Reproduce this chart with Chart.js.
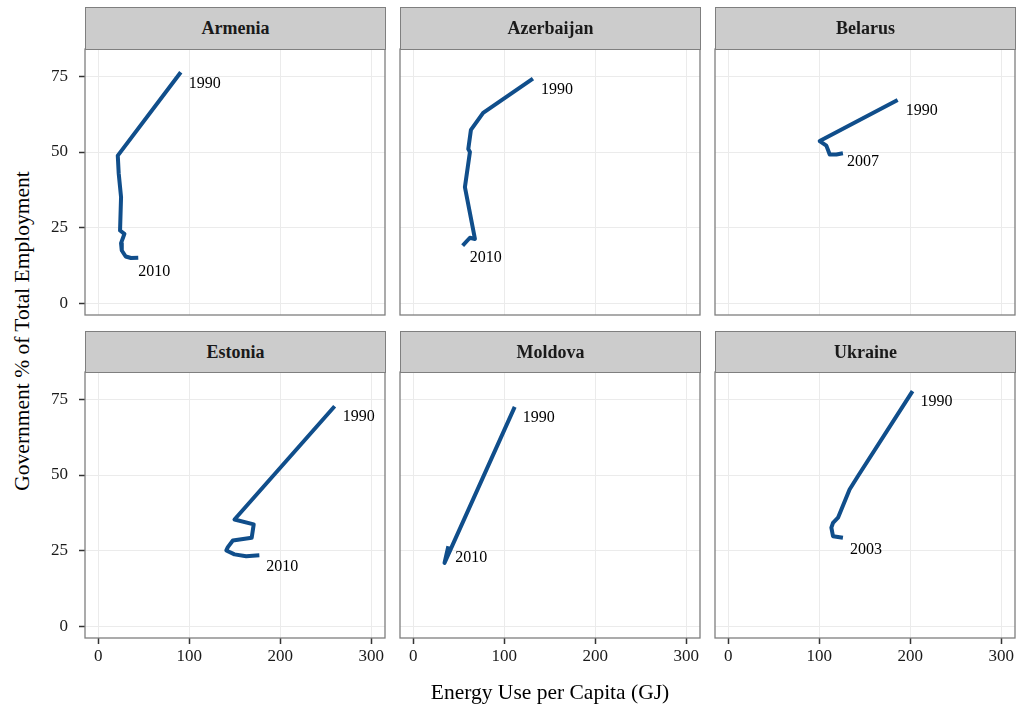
<!DOCTYPE html>
<html>
<head>
<meta charset="utf-8">
<script src="https://cdn.jsdelivr.net/npm/chart.js@4.4.1/dist/chart.umd.min.js"></script>
<style>
    body { margin: 0; background: #ffffff; }
    #wrap { position: relative; width: 1018px; height: 704px; background: #ffffff; overflow: hidden; font-family: "Liberation Serif", serif; }
    canvas { position: absolute; }
    .strip {
        position: absolute; box-sizing: border-box; width: 301px;
        background: #cccccc; border: 1.3px solid #7f7f7f;
        color: #1a1a1a; font-weight: bold; font-size: 18px;
        display: flex; align-items: center; justify-content: center;
    }
    .title { position: absolute; color: #000000; font-size: 21.5px; white-space: nowrap; }
</style>
</head>
<body>
<div id="wrap"></div>
<script>
// Datos: una trayectoria por país (1990 -> último año)
var countries = ['Armenia', 'Azerbaijan', 'Belarus', 'Estonia', 'Moldova', 'Ukraine'];

// Energía per cápita (GJ) en cada vértice de la trayectoria
var armeniaEnergy    = [90.7, 21.5, 22.5, 25.1, 24.0, 28.8, 25.1, 25.9, 30.2, 36.0, 44.0];
var azerbaijanEnergy = [131.5, 76.8, 63.4, 60.5, 62.3, 56.8, 67.8, 62.3, 54.3];
var belarusEnergy    = [186.1, 100.5, 107.8, 111.5, 118.8, 126.0];
var estoniaEnergy    = [259.7, 149.7, 170.8, 168.6, 147.9, 142.4, 140.7, 149.7, 162.5, 177.0];
var moldovaEnergy    = [111.5, 34.4, 38.6];
var ukraineEnergy    = [202.5, 142.4, 133.3, 120.6, 115.1, 113.3, 115.1, 126.0];

// Empleo público (% del total) en los mismos vértices
var armeniaGov    = [76.3, 48.8, 43.0, 35.1, 24.1, 23.0, 19.9, 17.5, 15.5, 15.0, 15.1];
var azerbaijanGov = [74.2, 62.9, 57.3, 51.0, 50.0, 38.4, 21.3, 21.7, 19.1];
var belarusGov    = [67.2, 53.6, 52.1, 49.2, 49.2, 49.6];
var estoniaGov    = [72.7, 35.3, 33.7, 29.3, 28.4, 26.2, 25.1, 23.8, 23.2, 23.5];
var moldovaGov    = [72.5, 21.0, 26.5];
var ukraineGov    = [77.7, 49.6, 45.2, 35.9, 34.2, 32.6, 29.8, 29.3];

// Años que se etiquetan al principio y al final de cada trayectoria
var startYears = ['1990', '1990', '1990', '1990', '1990', '1990'];
var endYears   = ['2010', '2010', '2007', '2010', '2010', '2003'];

// Marcas de los ejes
var xTicks = [0, 100, 200, 300];
var yTicks = [0, 25, 50, 75];

var energySeries = [armeniaEnergy, azerbaijanEnergy, belarusEnergy, estoniaEnergy, moldovaEnergy, ukraineEnergy];
var govSeries = [armeniaGov, azerbaijanGov, belarusGov, estoniaGov, moldovaGov, ukraineGov];

var LINE = '#104e8b';
var FONT = '"Liberation Serif", "Times New Roman", serif';
var wrap = document.getElementById('wrap');

// Geometría de la rejilla de paneles
var colLeft = [85, 400, 715];
var rowTop = [49, 372];
var stripTop = [7, 331];
var panelW = 300, panelH = 266, axisW = 45, axisH = 30, padR = 20, padT = 30;

// Desplazamiento (px) de la etiqueta final respecto al último punto, como en el original
var endNudge = [[0, 14], [7, 12], [4, 9], [7, 12], [7, 12], [7, 12]];

// Borde gris del panel (estilo theme_bw)
var borderPlugin = {
    id: 'panelBorder',
    afterDraw: function (chart) {
        var a = chart.chartArea, ctx = chart.ctx;
        ctx.save();
        ctx.strokeStyle = '#7f7f7f';
        ctx.lineWidth = 1.3;
        ctx.strokeRect(a.left, a.top, a.right - a.left, a.bottom - a.top);
        ctx.restore();
    }
};

// Etiquetas de año junto al primer y último punto
var yearPlugin = {
    id: 'yearLabels',
    afterDatasetsDraw: function (chart, args, opts) {
        var pts = chart.getDatasetMeta(0).data;
        if (!pts.length) return;
        var ctx = chart.ctx;
        ctx.save();
        ctx.font = '16px ' + FONT;
        ctx.fillStyle = '#000000';
        ctx.textAlign = 'left';
        ctx.textBaseline = 'middle';
        var first = pts[0], last = pts[pts.length - 1];
        ctx.fillText(opts.start, first.x + 8, first.y + 11);
        ctx.fillText(opts.end, last.x + opts.nudge[0], last.y + opts.nudge[1]);
        ctx.restore();
    }
};

countries.forEach(function (name, i) {
    var col = i % 3, row = Math.floor(i / 3);
    var isLeft = col === 0, isBottom = row === 1;

    var strip = document.createElement('div');
    strip.className = 'strip';
    strip.style.left = colLeft[col] + 'px';
    strip.style.top = stripTop[row] + 'px';
    strip.style.height = (rowTop[row] - stripTop[row] + 1) + 'px';
    strip.textContent = name;
    wrap.appendChild(strip);

    var canvas = document.createElement('canvas');
    canvas.width = axisW + panelW + padR;
    canvas.height = padT + panelH + axisH;
    canvas.style.left = (colLeft[col] - axisW) + 'px';
    canvas.style.top = (rowTop[row] - padT) + 'px';
    wrap.insertBefore(canvas, wrap.firstChild);

    var points = energySeries[i].map(function (e, k) {
        return { x: e, y: govSeries[i][k] };
    });

    new Chart(canvas.getContext('2d'), {
        type: 'line',
        data: {
            datasets: [{
                data: points,
                borderColor: LINE,
                borderWidth: 4,
                borderCapStyle: 'butt',
                borderJoinStyle: 'round',
                pointRadius: 0,
                tension: 0,
                fill: false
            }]
        },
        options: {
            responsive: false,
            animation: false,
            devicePixelRatio: 1,
            layout: { padding: { left: 0, right: padR, top: padT, bottom: 0 } },
            plugins: {
                legend: { display: false },
                tooltip: { enabled: false },
                yearLabels: { start: startYears[i], end: endYears[i], nudge: endNudge[i] }
            },
            scales: {
                x: {
                    type: 'linear',
                    min: -14.5,
                    max: 315,
                    afterBuildTicks: function (s) { s.ticks = xTicks.map(function (v) { return { value: v }; }); },
                    afterFit: function (s) { s.height = axisH; },
                    border: { display: false },
                    grid: { color: '#ebebeb', lineWidth: 1, drawTicks: isBottom, tickLength: 6, tickColor: '#333333', tickWidth: 1.5 },
                    ticks: { display: isBottom, maxRotation: 0, padding: 2, color: '#1a1a1a', font: { family: FONT, size: 17 } }
                },
                y: {
                    type: 'linear',
                    min: -3.8,
                    max: 84,
                    afterBuildTicks: function (s) { s.ticks = yTicks.map(function (v) { return { value: v }; }); },
                    afterFit: function (s) { s.width = axisW; },
                    border: { display: false },
                    grid: { color: '#ebebeb', lineWidth: 1, drawTicks: isLeft, tickLength: 6, tickColor: '#333333', tickWidth: 1.5 },
                    ticks: { display: isLeft, padding: 11, color: '#1a1a1a', font: { family: FONT, size: 17 } }
                }
            }
        },
        plugins: [borderPlugin, yearPlugin]
    });
});

// Títulos de los ejes
var xt = document.createElement('div');
xt.className = 'title';
xt.textContent = 'Energy Use per Capita (GJ)';
xt.style.left = '550px';
xt.style.top = '692px';
xt.style.transform = 'translate(-50%, -50%)';
wrap.appendChild(xt);

var yt = document.createElement('div');
yt.className = 'title';
yt.textContent = 'Government % of Total Employment';
yt.style.left = '22px';
yt.style.top = '331px';
yt.style.transform = 'translate(-50%, -50%) rotate(-90deg)';
wrap.appendChild(yt);
</script>
</body>
</html>
